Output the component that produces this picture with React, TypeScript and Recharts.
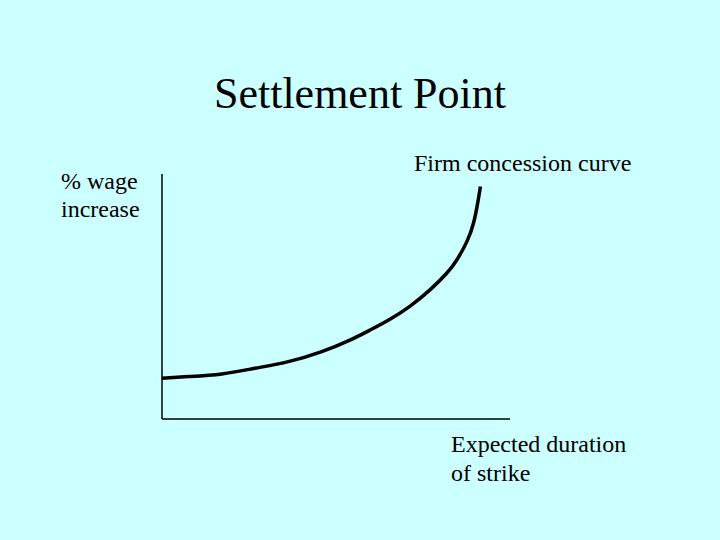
import React from "react";
import { LineChart, Line, XAxis, YAxis, ReferenceLine } from "recharts";

const durationX = [0, 7.6, 17.2, 26.7, 36.3, 45.9, 54.0, 59.8, 65.5, 71.3, 77.0, 81.8, 84.7, 87.6, 89.5, 90.7, 91.5];
const wageY = [16.6, 17.3, 18.4, 20.7, 23.4, 27.5, 32.2, 36.3, 40.7, 46.1, 52.7, 59.5, 64.9, 72.4, 79.9, 88.0, 94.9];

const data = durationX.map((x, i) => ({ x, y: wageY[i] }));

const FONT = "Liberation Serif";
const BG = "#CCFFFF";
const textStyle: React.CSSProperties = { fontFamily: FONT };

export default function App() {
  return (
    <div style={{ position: "absolute", left: 0, top: 0, width: 720, height: 540, background: BG, overflow: "hidden" }}>
      <LineChart
        width={720}
        height={540}
        data={data}
        margin={{ top: 174, right: 210, bottom: 121, left: 162 }}
      >
        <XAxis type="number" dataKey="x" domain={[0, 100]} hide />
        <YAxis type="number" domain={[0, 100]} hide />
        <ReferenceLine x={0} stroke="#000" strokeWidth={1.5} ifOverflow="extendDomain" />
        <ReferenceLine y={0} stroke="#000" strokeWidth={1.5} ifOverflow="extendDomain" />
        <Line
          type="natural"
          dataKey="y"
          stroke="#000"
          strokeWidth={3.5}
          dot={false}
          isAnimationActive={false}
        />
      </LineChart>
      <svg width={720} height={540} style={{ position: "absolute", left: 0, top: 0, pointerEvents: "none" }}>
        <text x={360} y={108} textAnchor="middle" style={textStyle} fontSize={44} fill="#000">Settlement Point</text>
        <text x={61} y={189} style={textStyle} fontSize={24} fill="#000">% wage</text>
        <text x={61} y={217} style={textStyle} fontSize={24} fill="#000">increase</text>
        <text x={414} y={171} style={textStyle} fontSize={24} fill="#000">Firm concession curve</text>
        <text x={451} y={452} style={textStyle} fontSize={24} fill="#000">Expected duration</text>
        <text x={451} y={481} style={textStyle} fontSize={24} fill="#000">of strike</text>
      </svg>
    </div>
  );
}
